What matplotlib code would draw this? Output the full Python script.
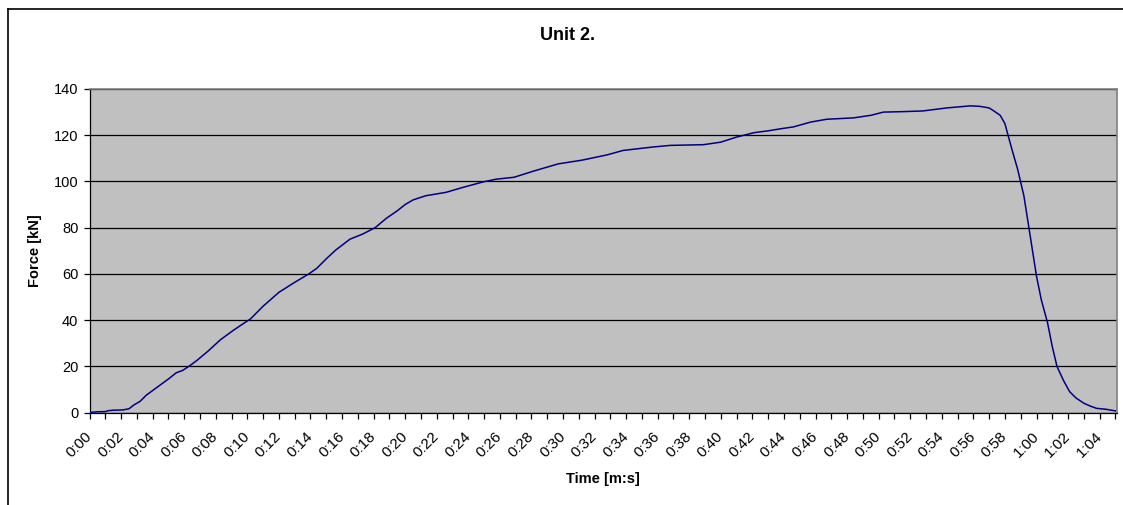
import matplotlib
matplotlib.use('Agg')
import matplotlib.pyplot as plt
from matplotlib.lines import Line2D

plt.rcParams['font.family'] = ['Liberation Sans', 'DejaVu Sans']

# force curve: time in seconds, force in kN
time_s = [0, 0.5, 1.0, 1.2, 1.5, 2.1, 2.5, 2.8, 3.2, 3.6,
          4.0, 4.4, 5.0, 5.5, 5.9, 6.3, 6.8, 7.5, 8.3, 9.1,
          9.6, 10.2, 11.0, 12.0, 12.9, 13.9, 14.4, 15.0, 15.6, 16.5,
          17.3, 18.1, 18.8, 19.5, 20.0, 20.5, 21.3, 22.0, 22.6, 23.7,
          25.0, 25.8, 26.9, 28.1, 29.7, 31.2, 32.8, 33.8, 35.7, 36.8,
          38.9, 40.0, 41.0, 42.1, 43.0, 43.8, 44.6, 45.7, 46.7, 48.4,
          49.5, 50.3, 51.5, 52.8, 53.5, 54.3, 55.8, 56.4, 57.0, 57.3,
          57.7, 58.0, 58.2, 58.5, 58.8, 59.2, 59.5, 59.8, 60.0, 60.3,
          60.7, 61.0, 61.3, 61.7, 62.1, 62.5, 63.0, 63.4, 63.8, 64.4,
          65.0]
force_kn = [0, 0.3, 0.4, 0.8, 1.0, 1.1, 1.6, 3.2, 4.8, 7.5,
            9.5, 11.5, 14.5, 17.2, 18.2, 20.0, 22.5, 26.5, 31.5, 35.5,
            37.8, 40.5, 46.0, 52.0, 55.9, 60.0, 62.4, 66.5, 70.3, 75.0,
            77.2, 80.0, 84.0, 87.3, 90.0, 92.0, 93.8, 94.6, 95.3, 97.5,
            99.9, 101.0, 101.8, 104.4, 107.6, 109.2, 111.5, 113.4, 114.9, 115.6,
            115.9, 117.0, 119.2, 121.1, 121.9, 122.8, 123.6, 125.7, 126.9, 127.5,
            128.6, 130.0, 130.2, 130.5, 131.1, 131.8, 132.7, 132.5, 131.8, 130.5,
            128.6, 125.0, 119.9, 112.5, 105.4, 93.8, 80.8, 67.7, 59.0, 48.9,
            38.8, 28.5, 19.9, 14.0, 9.0, 6.3, 4.0, 2.8, 1.8, 1.4,
            0.7]

x_labels = ['0:00', '0:02', '0:04', '0:06', '0:08', '0:10', '0:12', '0:14',
            '0:16', '0:18', '0:20', '0:22', '0:24', '0:26', '0:28', '0:30',
            '0:32', '0:34', '0:36', '0:38', '0:40', '0:42', '0:44', '0:46',
            '0:48', '0:50', '0:52', '0:54', '0:56', '0:58', '1:00', '1:02',
            '1:04']
y_ticks = [0, 20, 40, 60, 80, 100, 120, 140]

W, H = 1123, 505
fig = plt.figure(figsize=(W / 100, H / 100), dpi=100)
fig.patch.set_facecolor('white')

# plot area in pixels: left 89.5, right 1117, top 89, bottom 412.5
ax = fig.add_axes([89.5 / W, 1 - 412.5 / H, (1117 - 89.5) / W, (412.5 - 89) / H])
ax.set_facecolor('#c0c0c0')

ax.plot(time_s, force_kn, color='#000080', lw=1.1, zorder=3)

ax.set_xlim(0, 65.1)
ax.set_ylim(0, 140)
ax.set_yticks(y_ticks)
ax.yaxis.grid(True, color='black', lw=0.9)
ax.set_axisbelow(True)

ax.set_xticks(range(66))
ax.set_xticklabels([x_labels[i // 2] if i % 2 == 0 and i // 2 < len(x_labels) else ''
                    for i in range(66)],
                   rotation=45, ha='right', va='center', rotation_mode='anchor')

ax.tick_params(axis='x', direction='out', length=4, width=0.9, pad=12,
               labelsize=11, colors='black')
ax.tick_params(axis='y', direction='out', length=4, width=0.9, pad=4,
               labelsize=10.5, colors='black')

for s in ['left', 'bottom']:
    ax.spines[s].set_color('black')
    ax.spines[s].set_linewidth(0.9)
for s in ['top', 'right']:
    ax.spines[s].set_color('#808080')
    ax.spines[s].set_linewidth(1.2)

fig.text(568 / W, 1 - 36 / H, 'Unit 2.', ha='center', va='center',
         fontsize=13, fontweight='bold')
fig.text(35 / W, 1 - 250.5 / H, 'Force [kN]', ha='center', va='center',
         rotation=90, fontsize=10.5, fontweight='bold')
fig.text(603 / W, 1 - 479 / H, 'Time [m:s]', ha='center', va='center',
         fontsize=10.5, fontweight='bold')

# chart frame (cut off at right and bottom in the original)
fig.add_artist(Line2D([8 / W, 1], [1 - 9 / H, 1 - 9 / H], color='black', lw=1.2,
                      transform=fig.transFigure))
fig.add_artist(Line2D([8 / W, 8 / W], [0, 1 - 9 / H], color='black', lw=1.2,
                      transform=fig.transFigure))

fig.savefig('out.png', dpi=100)
